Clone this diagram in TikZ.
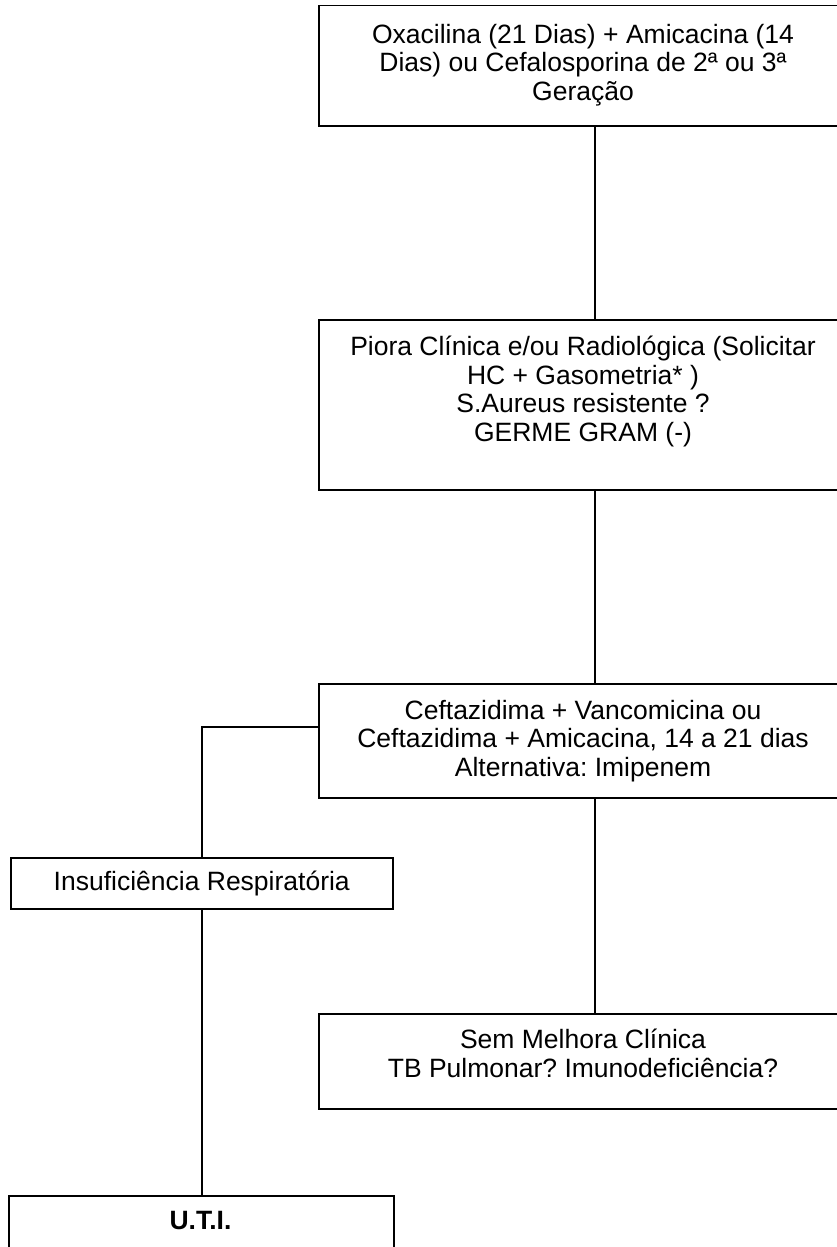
\documentclass[tikz,border=0pt]{standalone}
\usepackage{fontspec}
\setmainfont{Liberation Sans}
\frenchspacing
\begin{document}
\begin{tikzpicture}[x=1pt,y=-1pt,
  box/.style={draw,line width=1.5pt,inner sep=0pt,anchor=north west},
  txt/.style={font=\fontsize{26.5}{28.5}\selectfont,align=center,inner sep=0pt},
  link/.style={line width=1.5pt}]
\useasboundingbox (0,0) rectangle (837,1247);
\clip (0,0) rectangle (837,1247);
\coordinate (cx) at (595,0);
\coordinate (by) at (0,727);
% boxes
\node[box,minimum width=530pt,minimum height=120pt] (b1) at (318,5) {};
\node[box,minimum width=530pt,minimum height=170pt] (b2) at (318,319) {};
\node[box,minimum width=530pt,minimum height=114pt] (b3) at (318,683) {};
\node[box,minimum width=382pt,minimum height=51pt] (b4) at (10,857) {};
\node[box,minimum width=530pt,minimum height=95pt] (b5) at (318,1013) {};
\node[box,minimum width=385pt,minimum height=120pt] (b6) at (8,1195) {};
% texts
\node[txt,anchor=north] (t1) at (583,24) {Oxacilina (21 Dias) + Amicacina (14\\Dias) ou Cefalosporina de 2ª ou 3ª\\Geração};
\node[txt,anchor=north] (t2) at (583,336) {Piora Clínica e/ou Radiológica (Solicitar\\HC + Gasometria* )\\S.Aureus resistente ?\\GERME GRAM (-)};
\node[txt,anchor=north] (t3) at (583,700) {Ceftazidima + Vancomicina ou\\Ceftazidima + Amicacina, 14 a 21 dias\\Alternativa: Imipenem};
\node[txt] (t4) at (b4.center) {Insuficiência Respiratória};
\node[txt,anchor=north] (t5) at (583,1029) {Sem Melhora Clínica\\TB Pulmonar? Imunodeficiência?};
\node[txt,anchor=north,font=\fontsize{26.5}{28.5}\selectfont\bfseries] (t6) at (200.5,1211) {U.T.I.};
% connectors
\draw[link] (b1.south -| cx) -- (b2.north -| cx);
\draw[link] (b2.south -| cx) -- (b3.north -| cx);
\draw[link] (b3.south -| cx) -- (b5.north -| cx);
\draw[link] (b3.west |- by) -- (b4.north |- by) -- (b4.north);
\draw[link] (b4.south) -- (b6.north -| b4.south);
\end{tikzpicture}
\end{document}
